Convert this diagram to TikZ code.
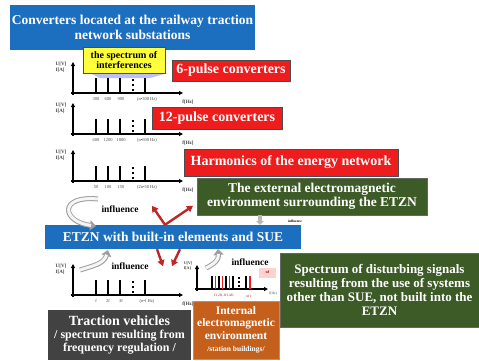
\documentclass[tikz,border=0pt]{standalone}
\usepackage{fontspec}
\setmainfont{Liberation Serif}
\usetikzlibrary{positioning, arrows.meta}

\definecolor{etznblue}{HTML}{1C6EBE}
\definecolor{convred}{HTML}{EE1C1C}
\definecolor{envgreen}{HTML}{3D5B27}
\definecolor{bldorange}{HTML}{C4601C}
\definecolor{vehgray}{HTML}{424242}
\definecolor{tipyellow}{HTML}{FFFF3C}
\definecolor{arrowred}{HTML}{BE2628}

\newcommand{\fs}[1]{\fontsize{#1}{1.08\dimexpr#1pt\relax}\selectfont}

\tikzset{
    box/.style={fill=#1, text=white, font=\bfseries, align=center, inner sep=1pt},
    redbox/.style={box=convred, draw=black!70, line width=0.8pt},
    axis/.style={line width=1.1pt, -{Triangle[length=4pt,width=4pt]}},
    bar/.style={line width=2.2pt},
    dotline/.style={line width=2pt, dash pattern=on 2pt off 3pt},
    ticklbl/.style={font=\fs{4.5}, text=black!70, inner sep=0pt},
    unitlbl/.style={font=\fs{5}\bfseries, text=black!75, inner sep=0pt, align=left},
    infl/.style={font=\fs{9.5}\bfseries, inner sep=0pt},
    redarrow/.style={draw=arrowred, line width=2.4pt, -{Triangle[length=6pt,width=7pt]}},
    turnout/.style={draw=gray!75, line width=5pt, -{Triangle[length=6pt,width=10pt]}},
    turnin/.style={draw=gray!8, line width=3pt, shorten >=5pt}
}

\begin{document}
\begin{tikzpicture}[x=1pt, y=-1pt]
    \useasboundingbox (0,0) rectangle (479,360);

    % Boxes
    \node[box=etznblue, minimum width=245pt, minimum height=45pt, font=\fs{13.5}\bfseries] (title) at (132.5,27.5)
        {Converters located at the railway traction\\network substations};
    \fill[blue!25] (90,73) -- (168,73) -- (150,78) -- (100,78) -- cycle;
    \node[box=tipyellow, text=black, draw=black!70, line width=0.8pt, minimum width=82pt, minimum height=26pt, font=\fs{10}\bfseries] (interf) at (124,60)
        {the spectrum of\\interferences};
    \node[redbox, minimum width=118pt, minimum height=21pt, font=\fs{14}\bfseries] (sixp) at (231,70.5) {6-pulse converters};
    \node[redbox, minimum width=130pt, minimum height=22pt, font=\fs{14}\bfseries] (twelvep) at (217,118) {12-pulse converters};
    \node[redbox, minimum width=214pt, minimum height=27pt, font=\fs{14}\bfseries] (harm) at (291,162.5) {Harmonics of the energy network};
    \node[box=envgreen, draw=black!60, line width=0.6pt, minimum width=230pt, minimum height=37pt, font=\fs{13.5}\bfseries] (extenv) at (312,196.5)
        {The external electromagnetic\\environment surrounding the ETZN};
    \node[box=etznblue, minimum width=256pt, minimum height=24pt, font=\fs{13.5}\bfseries] (etzn) at (173,237)
        {ETZN with built-in elements and SUE};
    \node[box=envgreen, draw=black!60, line width=0.6pt, minimum width=199pt, minimum height=74pt, font=\fs{13}\bfseries] (sigspec) at (379.5,290)
        {Spectrum of disturbing signals\\resulting from the use of systems\\other than SUE, not built into the\\ETZN};
    \node[box=bldorange, draw=black!40, line width=0.6pt, minimum width=86pt, minimum height=58pt, font=\fs{11.5}\bfseries] (intenv) at (236,330)
        {Internal\\electromagnetic\\environment\\{\fs{7.5}/station buildings/}};
    \node[box=vehgray, minimum width=143pt, minimum height=50pt, font=\fs{12}\bfseries] (vehicles) at (119.5,335)
        {{\fs{14}Traction vehicles}\\/ spectrum resulting from\\frequency regulation /};

    % Spectra of the converters, the network and the vehicles
    \foreach \base/\ta/\tb/\tc/\tn in {93/300/600/900/{(n\textbullet300 Hz)},
                                       134/600/1200/1800/{(n\textbullet600 Hz)},
                                       181/50/100/150/{(2n\textbullet50 Hz)},
                                       295/f/2f/3f/{(n\textbullet f Hz)}} {
        \draw[axis] (71,\base) -- (183,\base);
        \draw[axis] (73,\base+2) -- (73,\base-31);
        \foreach \bx in {96,108,120,145}
            \draw[bar] (\bx,\base) -- (\bx,\base-15);
        \draw[dotline] (133,\base-14) -- (133,\base-2);
        \node[unitlbl] at (61,\base-26) {U[V]\\I[A]};
        \node[ticklbl] at (96,\base+6) {\ta};
        \node[ticklbl] at (108,\base+6) {\tb};
        \node[ticklbl] at (121,\base+6) {\tc};
        \node[ticklbl] at (147,\base+6) {\tn};
        \node[unitlbl] at (188,\base+9) {f[Hz]};
    }

    % Spectrum of the station buildings
    \draw[axis] (195,289) -- (268,289);
    \draw[axis] (197,291) -- (197,265);
    \foreach \bx in {212,219,226,233,246}
        \draw[line width=1.6pt] (\bx,289) -- (\bx,276);
    \foreach \bx in {215.5,222.5,229.5,250}
        \draw[line width=1.6pt, convred] (\bx,289) -- (\bx,276);
    \draw[line width=1.6pt, dash pattern=on 1.6pt off 2.5pt] (239,277) -- (239,288);
    \node[unitlbl, font=\fs{4}\bfseries] at (188,266) {U[V]\\I[A]};
    \node[ticklbl, font=\fs{3.5}, text=convred!70!black] at (224,296) {f1,2f1,3f1,4f1};
    \node[ticklbl, font=\fs{3.5}, text=convred!70!black] at (249,296) {nf1};
    \node[ticklbl, font=\fs{3.5}] at (273,293) {f[Hz]};
    \node[fill=pink!70, text=convred!60!black, font=\fs{4}\bfseries, minimum width=17pt, minimum height=10pt, inner sep=0pt] (nfbox) at (267.5,272.5) {nf};

    % Influences
    \draw[turnout] (98,199) .. controls (58,195) and (62,222) .. (96,226);
    \draw[turnin] (98,199) .. controls (58,195) and (62,222) .. (96,226);
    \node[infl] (inflA) at (120,209) {influence};
    \draw[turnout] (80,270) .. controls (92,266) and (104,264) .. (108,250);
    \draw[turnin] (80,270) .. controls (92,266) and (104,264) .. (108,250);
    \node[infl] (inflB) at (130,266) {influence};
    \draw[turnout] (206,268) .. controls (214,264) and (219,260) .. (218,249);
    \draw[turnin] (206,268) .. controls (214,264) and (219,260) .. (218,249);
    \node[infl] (inflC) at (250,262) {influence};
    \draw[draw=gray!55, line width=4pt, -{Triangle[length=4pt,width=8pt]}]
        ([xshift=-52pt]extenv.south) -- ([xshift=87pt]etzn.north);
    \node[infl, font=\fs{3.5}\bfseries] (inflD) at (295,221) {influence};

    % Couplings of the ETZN
    \draw[redarrow] ([xshift=-8pt]etzn.north) -- ++(-13,-19);
    \draw[redarrow] ([xshift=-8pt]etzn.north) -- ++(28,-19);
    \draw[redarrow] ([xshift=-16pt]etzn.south) -- ++(6,17);
    \draw[redarrow] ([xshift=7pt]etzn.south) -- ++(-8,17);
\end{tikzpicture}
\end{document}
